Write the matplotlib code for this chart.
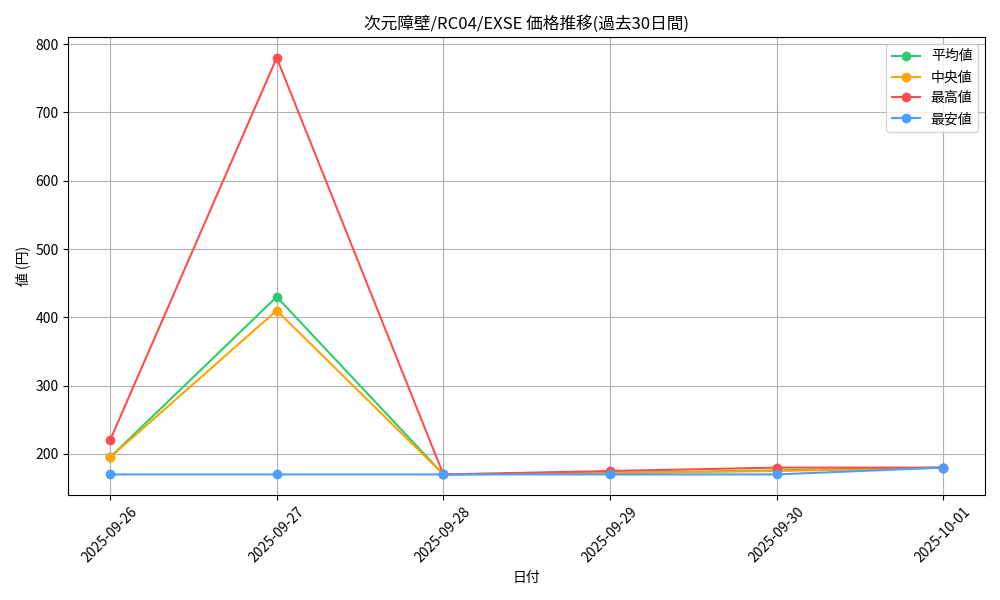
import matplotlib
matplotlib.use("Agg")
import matplotlib.pyplot as plt

plt.rcParams['font.family'] = ['Noto Sans CJK JP', 'DejaVu Sans']

dates = ["2025-09-26", "2025-09-27", "2025-09-28", "2025-09-29", "2025-09-30", "2025-10-01"]
avg_vals = [195, 430, 170, 172, 176, 180]
median_vals = [195, 410, 170, 172, 175, 180]
max_vals = [220, 780, 170, 175, 180, 180]
min_vals = [170, 170, 170, 170, 170, 180]

fig, ax = plt.subplots(figsize=(10, 6), dpi=100)
x = range(len(dates))
ax.plot(x, avg_vals, marker='o', color='#2ecc71', label='平均値')
ax.plot(x, median_vals, marker='o', color='#ffa500', label='中央値')
ax.plot(x, max_vals, marker='o', color='#ff4d4d', label='最高値')
ax.plot(x, min_vals, marker='o', color='#4d9fff', label='最安値')

ax.set_xticks(list(x))
ax.set_xticklabels(dates, rotation=45)
ax.set_title('次元障壁/RC04/EXSE 価格推移(過去30日間)')
ax.set_xlabel('日付')
ax.set_ylabel('値 (円)')
ax.grid(True)
ax.legend(loc='upper right')

fig.tight_layout()
fig.savefig('out.png')
